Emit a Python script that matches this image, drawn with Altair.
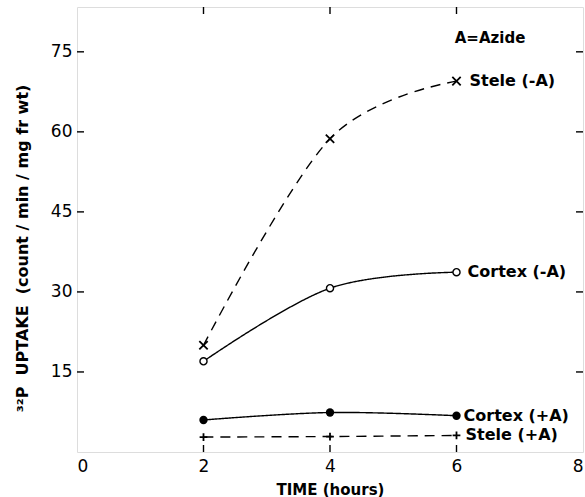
import altair as alt
import pandas as pd

# ---- data ----
times = [2, 4, 6]
stele_minus = [20.0, 58.7, 69.5]
cortex_minus = [17.0, 30.7, 33.7]
cortex_plus = [6.0, 7.4, 6.8]
stele_plus = [2.8, 2.9, 3.1]

series_names = ["Stele (-A)", "Cortex (-A)", "Cortex (+A)", "Stele (+A)"]
series_values = [stele_minus, cortex_minus, cortex_plus, stele_plus]
series_dash = ["dashed", "solid", "solid", "dashed"]
series_label_dx = [13, 11, 7, 9]

x_ticks = [0, 2, 4, 6, 8]
y_ticks = [15, 30, 45, 60, 75]
inner_x_ticks = [2, 4, 6]

note_text = ["A=Azide"]
note_x = [6.53]
note_y = [77.6]

W, H = 506, 445
FONT = "DejaVu Sans"
NB = "\u00a0"

rows = []
for name, vals, dash in zip(series_names, series_values, series_dash):
    for t, v in zip(times, vals):
        rows.append({"series": name, "time": t, "value": v, "dash": dash})
df = pd.DataFrame(rows)

xscale = alt.Scale(domain=[0, 8], nice=False, zero=False)
yscale = alt.Scale(domain=[0, 83.4], nice=False, zero=False)

X = alt.X("time:Q", scale=xscale,
          axis=alt.Axis(values=x_ticks, format="d", ticks=False, domain=False, grid=False,
                        labelFont=FONT, labelFontSize=17, labelColor="black",
                        labelPadding=6, title="TIME (hours)",
                        titleFont=FONT, titleFontSize=15, titleFontWeight="bold",
                        titleColor="black", titlePadding=8))
Y = alt.Y("value:Q", scale=yscale,
          axis=alt.Axis(values=y_ticks, format="d", ticks=False, domain=False, grid=False,
                        labelFont=FONT, labelFontSize=17, labelColor="black",
                        labelPadding=5,
                        title=f"³²P{NB}{NB}UPTAKE{NB}{NB}(count / min / mg fr wt)",
                        titleFont=FONT, titleFontSize=16, titleFontWeight="bold",
                        titleColor="black", titleX=-55, titleY=241,
                        titleAngle=-90, titleAlign="center", titleBaseline="middle"))

base = alt.Chart(df)

lines = base.mark_line(interpolate="cardinal", color="black", strokeWidth=1.4).encode(
    x=X, y=Y, detail="series:N",
    strokeDash=alt.StrokeDash("dash:N",
                              scale=alt.Scale(domain=["solid", "dashed"], range=[[1, 0], [10, 7]]),
                              legend=None),
)

x_path = "M-1,-1L1,1M-1,1L1,-1"
plus_path = "M-1,0L1,0M0,-1L0,1"

pts_x = base.transform_filter(alt.datum.series == "Stele (-A)").mark_point(
    shape=x_path, size=70, filled=False, color="black", strokeWidth=1.8, opacity=1
).encode(x="time:Q", y="value:Q")
pts_plus = base.transform_filter(alt.datum.series == "Stele (+A)").mark_point(
    shape=plus_path, size=60, filled=False, color="black", strokeWidth=1.8, opacity=1
).encode(x="time:Q", y="value:Q")
pts_open = base.transform_filter(alt.datum.series == "Cortex (-A)").mark_point(
    shape="circle", size=50, filled=True, fill="white", stroke="black", strokeWidth=1.4, opacity=1
).encode(x="time:Q", y="value:Q")
pts_fill = base.transform_filter(alt.datum.series == "Cortex (+A)").mark_point(
    shape="circle", size=70, filled=True, color="black", opacity=1
).encode(x="time:Q", y="value:Q")

labels = []
for name, dx in zip(series_names, series_label_dx):
    labels.append(
        base.transform_filter((alt.datum.series == name) & (alt.datum.time == 6)).mark_text(
            align="left", baseline="middle", dx=dx, font=FONT, fontSize=16,
            fontWeight="bold", color="black"
        ).encode(x="time:Q", y="value:Q", text="series:N")
    )

note = alt.Chart(pd.DataFrame({"t": note_text, "x": note_x, "y": note_y})).mark_text(
    align="center", baseline="middle", font=FONT, fontSize=15, fontWeight="bold", color="black"
).encode(x="x:Q", y="y:Q", text="t:N")

ydf = pd.DataFrame({"v": y_ticks})
xdf = pd.DataFrame({"v": inner_x_ticks})
left_ticks = alt.Chart(ydf).mark_rule(color="black", strokeWidth=1.4).encode(
    y="v:Q", x=alt.value(0), x2=alt.value(7))
right_ticks = alt.Chart(ydf).mark_rule(color="black", strokeWidth=1.4).encode(
    y="v:Q", x=alt.value(W - 7), x2=alt.value(W))
bottom_ticks = alt.Chart(xdf).mark_rule(color="black", strokeWidth=1.4).encode(
    x="v:Q", y=alt.value(H - 7), y2=alt.value(H))
top_ticks = alt.Chart(xdf).mark_rule(color="black", strokeWidth=1.4).encode(
    x="v:Q", y=alt.value(0), y2=alt.value(7))

chart = alt.layer(
    lines, left_ticks, right_ticks, bottom_ticks, top_ticks,
    pts_x, pts_plus, pts_open, pts_fill, *labels, note
).properties(
    width=W, height=H,
    autosize=alt.AutoSizeParams(type="none"),
    padding={"left": 77, "top": 7, "right": 2, "bottom": 45},
).configure_view(
    stroke="black", strokeWidth=1.6
).configure(background="white")

chart.save("out.html", embed_options={"renderer": "svg", "actions": False})
